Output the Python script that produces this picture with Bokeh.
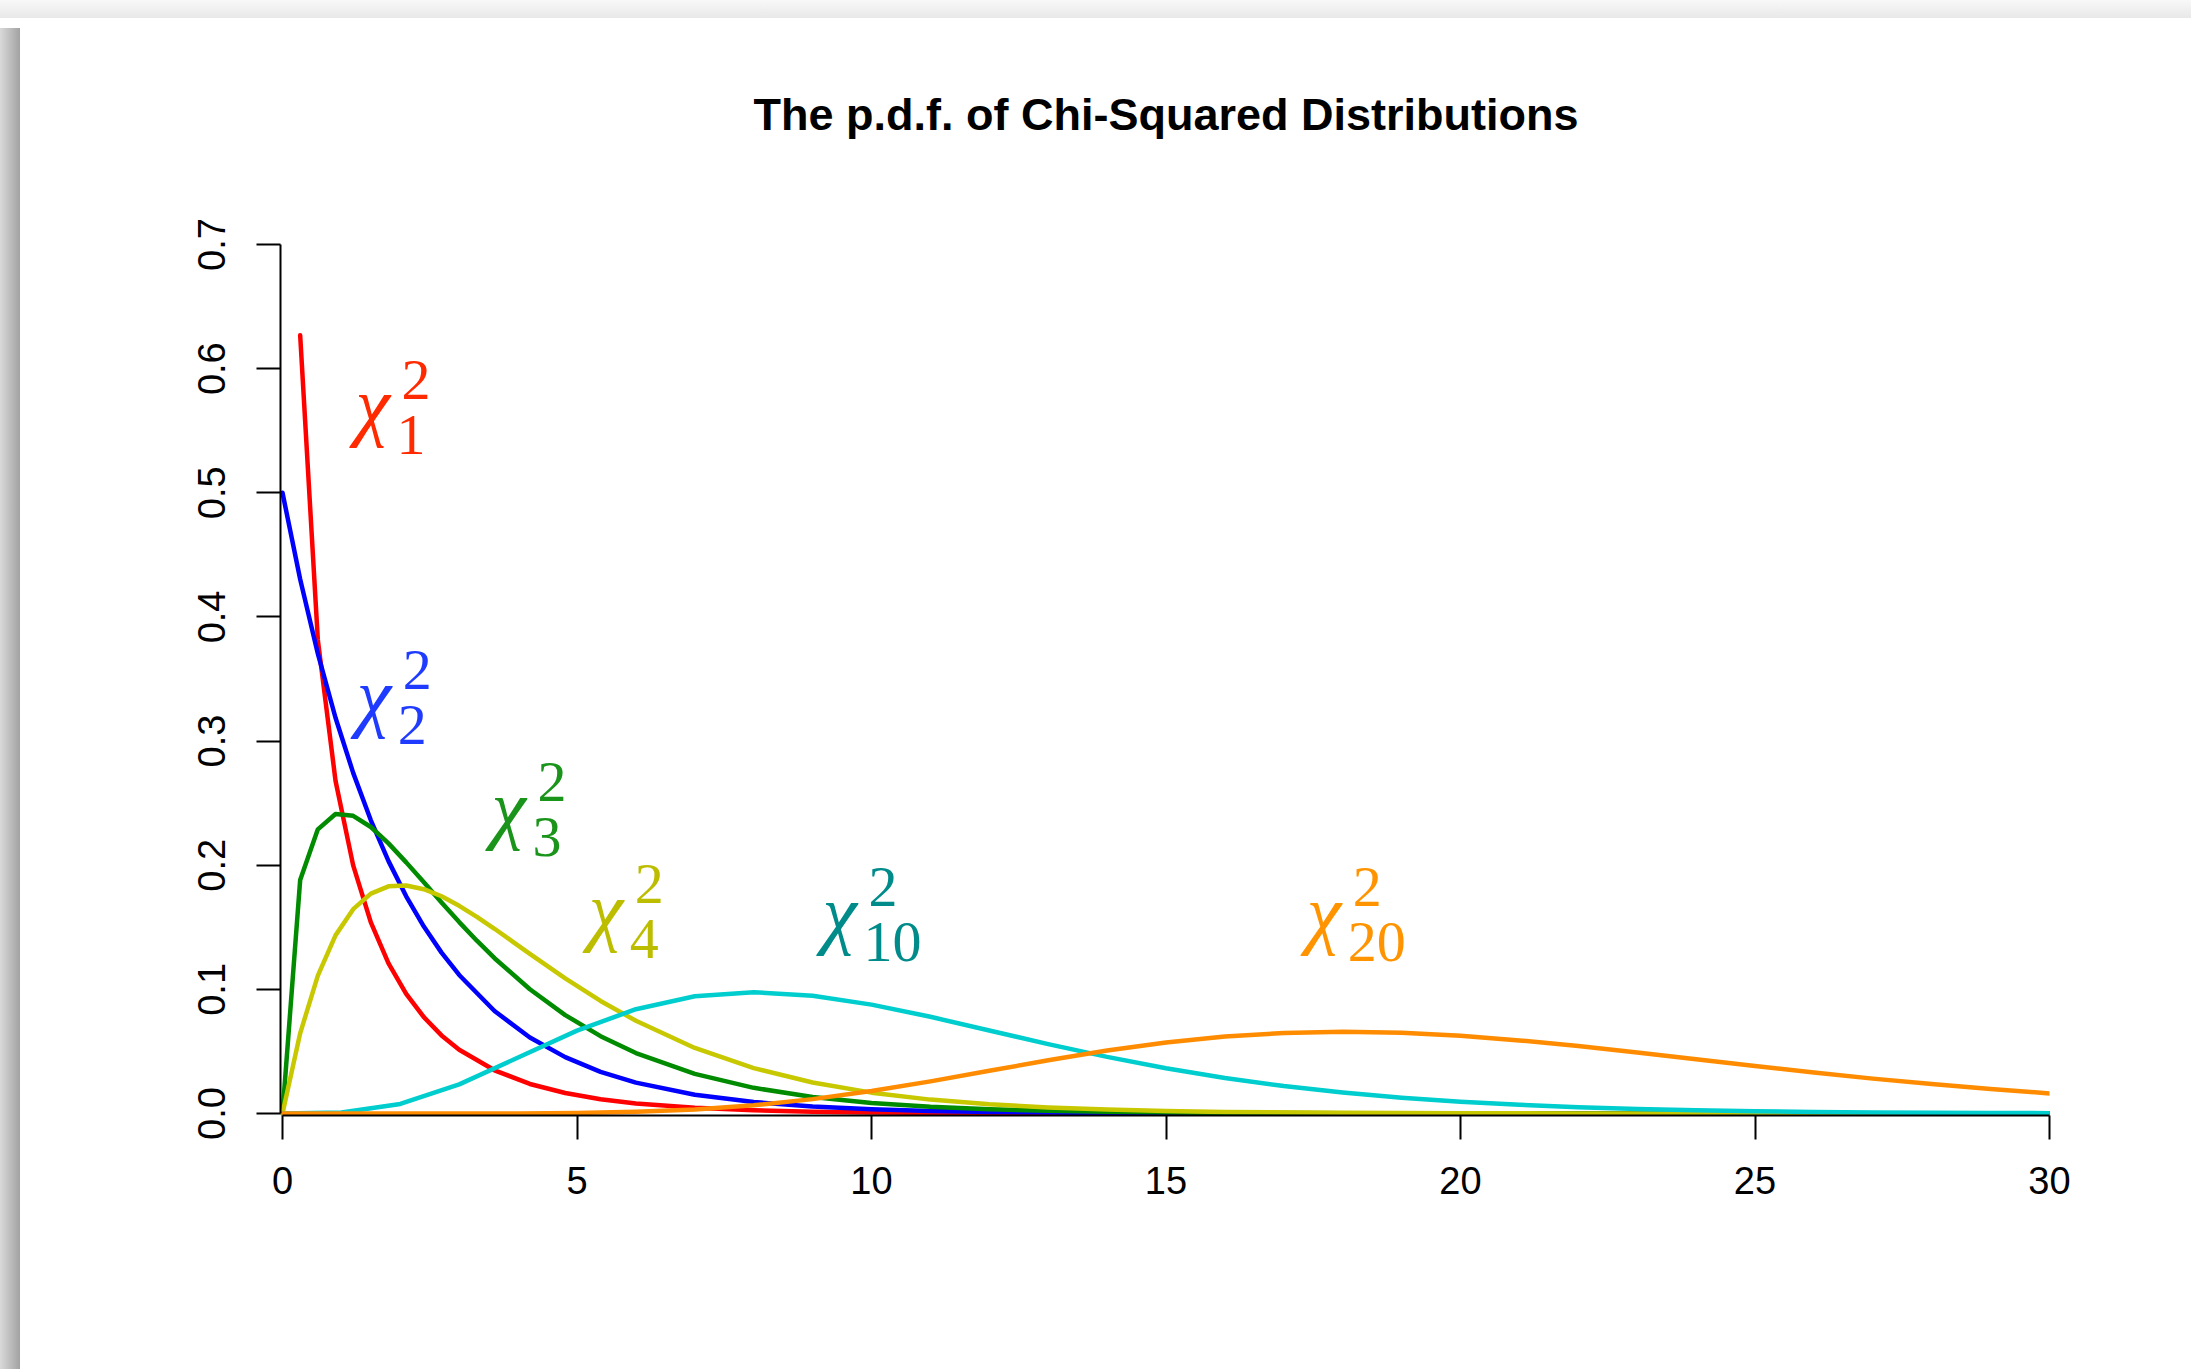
from bokeh.plotting import figure
from bokeh.models import ColumnDataSource, FixedTicker, Label, Div, Range1d, PrintfTickFormatter
from bokeh.layouts import row, column
from bokeh.core.properties import value
from bokeh.embed import file_html
from bokeh.resources import INLINE

# ---- data ----
df1_x = [0.3, 0.6, 0.9, 1.2, 1.5, 1.8, 2.1, 2.4, 2.7, 3.0, 3.6, 4.2, 4.8, 5.4, 6, 7, 8, 9, 10, 12, 15, 20, 30]
df1_y = [0.6269, 0.3815, 0.2681, 0.1999, 0.1539, 0.1209, 0.0963, 0.0776, 0.0629, 0.0514, 0.0348, 0.0238,
         0.0165, 0.0115, 0.0081, 0.0046, 0.0026, 0.0015, 0.0009, 0.0003, 0.0001, 0, 0]

df2_x = [0, 0.3, 0.6, 0.9, 1.2, 1.5, 1.8, 2.1, 2.4, 2.7, 3.0, 3.6, 4.2, 4.8, 5.4, 6, 7, 8, 9, 10, 11, 12, 14, 16, 20, 30]
df2_y = [0.5, 0.4304, 0.3704, 0.3188, 0.2744, 0.2362, 0.2033, 0.1750, 0.1506, 0.1296, 0.1116, 0.0826, 0.0612,
         0.0454, 0.0336, 0.0249, 0.0151, 0.0092, 0.0056, 0.0034, 0.0020, 0.0012, 0.0005, 0.0002, 0, 0]

df3_x = [0, 0.3, 0.6, 0.9, 1.2, 1.5, 1.8, 2.1, 2.4, 2.7, 3.0, 3.3, 3.6, 4.2, 4.8, 5.4, 6, 7, 8, 9, 10, 11, 12,
         13, 14, 16, 18, 20, 30]
df3_y = [0, 0.1881, 0.2289, 0.2413, 0.2398, 0.2308, 0.2176, 0.2023, 0.1862, 0.1699, 0.1542, 0.1392, 0.1251,
         0.1001, 0.0793, 0.0623, 0.0487, 0.0319, 0.0207, 0.0133, 0.0085, 0.0054, 0.0034, 0.0022, 0.0014,
         0.0005, 0.0002, 0.0001, 0]

df4_x = [0, 0.3, 0.6, 0.9, 1.2, 1.5, 1.8, 2.1, 2.4, 2.7, 3.0, 3.3, 3.6, 3.9, 4.2, 4.8, 5.4, 6, 7, 8, 9, 10,
         11, 12, 13, 14, 15, 16, 18, 20, 22, 25, 30]
df4_y = [0, 0.0646, 0.1111, 0.1435, 0.1646, 0.1771, 0.1830, 0.1837, 0.1807, 0.1750, 0.1673, 0.1584, 0.1488,
         0.1387, 0.1286, 0.1089, 0.0907, 0.0747, 0.0528, 0.0366, 0.0250, 0.0168, 0.0112, 0.0074, 0.0049,
         0.0032, 0.0021, 0.0013, 0.0006, 0.0002, 0.0001, 0, 0]

df10_x = [0, 1, 2, 3, 4, 5, 6, 7, 8, 9, 10, 11, 12, 13, 14, 15, 16, 17, 18, 19, 20, 21, 22, 23, 24, 25, 26,
          27, 28, 29, 30]
df10_y = [0, 0.0008, 0.0077, 0.0235, 0.0451, 0.0668, 0.0840, 0.0944, 0.0977, 0.0949, 0.0877, 0.0779, 0.0669,
          0.0559, 0.0456, 0.0365, 0.0286, 0.0221, 0.0169, 0.0127, 0.0095, 0.0070, 0.0051, 0.0037, 0.0027,
          0.0019, 0.0013, 0.0009, 0.0007, 0.0005, 0.0003]

df20_x = [0, 1, 2, 3, 4, 5, 6, 7, 8, 9, 10, 11, 12, 13, 14, 15, 16, 17, 18, 19, 20, 21, 22, 23, 24, 25, 26,
          27, 28, 29, 30]
df20_y = [0, 0, 0, 0.00001, 0.0001, 0.0004, 0.0014, 0.0033, 0.0066, 0.0116, 0.0181, 0.0259, 0.0344, 0.0429,
          0.0507, 0.0572, 0.0620, 0.0649, 0.0659, 0.0650, 0.0626, 0.0589, 0.0543, 0.0491, 0.0437, 0.0383,
          0.0330, 0.0281, 0.0237, 0.0197, 0.0162]

series_x = [df1_x, df2_x, df3_x, df4_x, df10_x, df20_x]
series_y = [df1_y, df2_y, df3_y, df4_y, df10_y, df20_y]
line_colors = ["#FF0000", "#0000FF", "#008B00", "#C8C800", "#00CDCD", "#FF8C00"]

label_df = ["1", "2", "3", "4", "10", "20"]
label_x = [1.24, 1.26, 3.55, 5.20, 9.17, 17.39]
label_y = [0.571, 0.337, 0.2467, 0.1646, 0.162, 0.162]
label_colors = ["#FF2A00", "#1F3BFF", "#1A941A", "#BDBD00", "#008B8B", "#FF9400"]

x_ticks = [0, 5, 10, 15, 20, 25, 30]
y_ticks = [0.0, 0.1, 0.2, 0.3, 0.4, 0.5, 0.6, 0.7]
title_text = "The p.d.f. of Chi-Squared Distributions"

# ---- figure ----
# the plotting frame reaches above 0.7 (invisible) so that the title sits inside it
p = figure(frame_width=1769, frame_height=1062,
           min_border_left=255, min_border_right=136, min_border_top=30, min_border_bottom=243,
           x_range=Range1d(-0.034, 30.0), y_range=Range1d(-0.0016, 0.85386),
           output_backend="svg", toolbar_location=None)
p.background_fill_color = "white"
p.border_fill_color = "white"
p.outline_line_color = None
p.xgrid.visible = False
p.ygrid.visible = False

for xs, ys, c in zip(series_x, series_y, line_colors):
    p.line(xs, ys, line_color=c, line_width=4.5, line_join="round", line_cap="round")

src = ColumnDataSource(dict(x=label_x, y=label_y, chi=["χ"] * len(label_x), sup=["2"] * len(label_x),
                            sub=label_df, color=label_colors))
p.text(x="x", y="y", text="chi", source=src, text_color="color", text_font=value("Liberation Serif"),
       text_font_style="italic", text_font_size="78px", text_align="left", text_baseline="alphabetic")
p.text(x="x", y="y", text="sup", source=src, text_color="color", text_font=value("Liberation Serif"),
       text_font_size="58px", text_align="left", text_baseline="alphabetic", x_offset=46, y_offset=-25)
p.text(x="x", y="y", text="sub", source=src, text_color="color", text_font=value("Liberation Serif"),
       text_font_size="58px", text_align="left", text_baseline="alphabetic", x_offset=41, y_offset=30)

for ax in (p.xaxis[0], p.yaxis[0]):
    ax.axis_line_width = 2
    ax.axis_line_color = "black"
    ax.major_tick_line_width = 2
    ax.major_tick_line_color = "black"
    ax.major_tick_out = 24
    ax.major_tick_in = 0
    ax.minor_tick_line_color = None
    ax.major_label_text_font = "Liberation Sans"
    ax.major_label_text_font_size = "38px"
    ax.major_label_text_color = "black"

p.xaxis[0].ticker = FixedTicker(ticks=x_ticks)
p.xaxis[0].bounds = (0, 30)
p.xaxis[0].major_label_standoff = 27
p.yaxis[0].ticker = FixedTicker(ticks=y_ticks)
p.yaxis[0].formatter = PrintfTickFormatter(format="%.1f")
p.yaxis[0].bounds = (0, 0.7)
p.yaxis[0].major_label_orientation = "vertical"
p.yaxis[0].major_label_standoff = 31

# title centred over the x axis, above the curves
p.add_layout(Label(x=15, y=0.8047, text=title_text, text_align="center", text_baseline="middle",
                   text_font="Liberation Sans", text_font_size="45px", text_font_style="bold",
                   text_color="black"))

top_band = Div(width=2194, height=21, styles={"background": "linear-gradient(to bottom, #fbfbfb, #e8e8e8)"})
left_band = Div(width=23, height=1348, styles={"background": "linear-gradient(to right, #e2e2e2, #a2a2a2)"})
root = column(top_band, row(left_band, p, spacing=0), spacing=0,
              styles={"margin-left": "-8px", "margin-top": "-8px"})

open("out.html", "w").write(file_html(root, INLINE))
